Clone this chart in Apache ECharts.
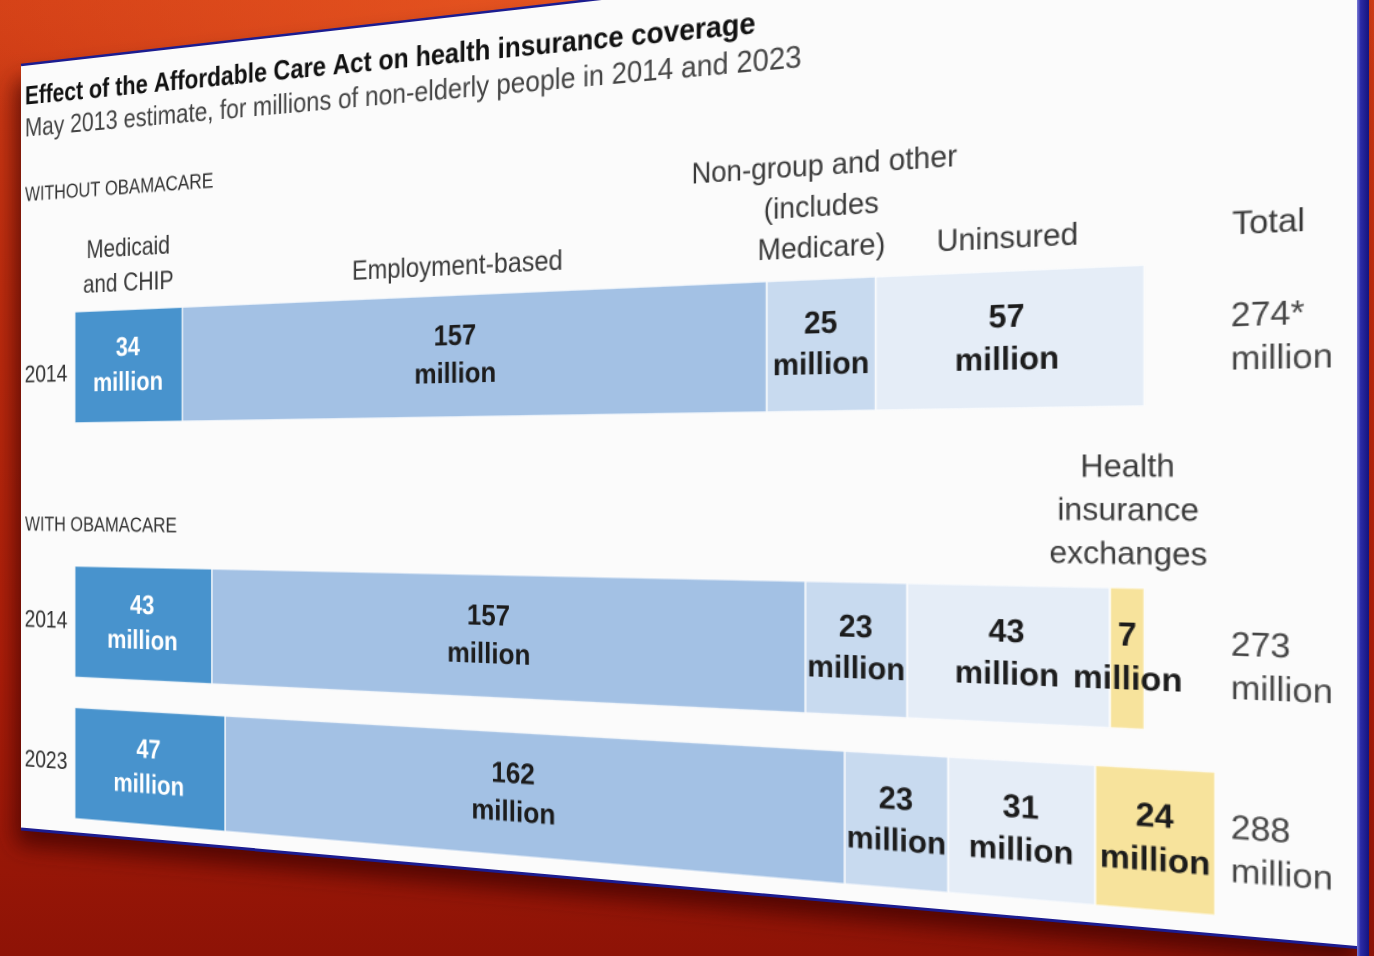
<!DOCTYPE html>
<html>
<head>
<meta charset="utf-8">
<title>Effect of the Affordable Care Act on health insurance coverage</title>
<script src="https://cdn.jsdelivr.net/npm/echarts@6/dist/echarts.min.js"></script>
<style>
  html, body { margin: 0; padding: 0; width: 1374px; height: 956px; overflow: hidden; }
  body {
    background:
      radial-gradient(ellipse 60% 18% at 45% 0%, rgba(236, 90, 35, 0.85) 0%, rgba(236, 90, 35, 0) 100%),
      linear-gradient(180deg, #cf3c15 0%, #bd2c0e 30%, #aa1d09 70%, #8e1306 100%);
  }
  #panel { position: absolute; left: 0; top: 0; }
  #chart { position: absolute; left: 0; top: 0; width: 1260px; height: 764px; transform-origin: 0 0; }
</style>
</head>
<body>
<svg id="panel" width="1374" height="956">
  <defs>
    <filter id="drop" x="-10%" y="-20%" width="125%" height="140%">
      <feGaussianBlur in="SourceAlpha" stdDeviation="11"></feGaussianBlur>
      <feOffset dx="-5" dy="16" result="blur"></feOffset>
      <feFlood flood-color="#3c0500" flood-opacity="0.75"></feFlood>
      <feComposite in2="blur" operator="in"></feComposite>
      <feMerge><feMergeNode></feMergeNode><feMergeNode in="SourceGraphic"></feMergeNode></feMerge>
    </filter>
    <linearGradient id="edge" x1="0" x2="1" y1="0" y2="0">
      <stop offset="0" stop-color="#7c7cd6"></stop>
      <stop offset="0.3" stop-color="#2a2aa6"></stop>
      <stop offset="1" stop-color="#14147e"></stop>
    </linearGradient>
  </defs>
  <polygon points="21,65 1362,-88 1362,948 21,829" fill="#fbfbfb" filter="url(#drop)"></polygon>
  <line x1="21" y1="65" x2="1362" y2="-88" stroke="#1c1c90" stroke-width="2.5"></line>
  <line x1="21" y1="829" x2="1362" y2="948" stroke="#1c1c90" stroke-width="3"></line>
  <rect x="1357" y="0" width="12" height="956" fill="url(#edge)"></rect>
</svg>
<div id="chart"></div>
<script>
// Coverage, in millions of non-elderly people
const rowYears = ['2014', '2014', '2023'];
const sectionNames = ['WITHOUT OBAMACARE', 'WITH OBAMACARE'];
const segmentNames = [
  'Medicaid\nand CHIP',
  'Employment-based',
  'Non-group and other\n(includes\nMedicare)',
  'Uninsured',
  'Health\ninsurance\nexchanges'
];
const totalHeading = 'Total';
const medicaid   = [34, 43, 47];
const employment = [157, 157, 162];
const nonGroup   = [25, 23, 23];
const uninsured  = [57, 43, 31];
const exchanges  = [null, 7, 24];
const totals     = ['274*', '273', '288'];

// Which row each segment heading sits above
const headerRow = [0, 0, 0, 0, 1];
// Rows belonging to each block (without / with the law)
const gridRows = [[0], [1, 2]];

const segments = [medicaid, employment, nonGroup, uninsured, exchanges];
const segColors = ['#4893cd', '#a3c1e4', '#c8daef', '#e5edf7', '#f7e39c'];
const valueColors = ['#ffffff', '#1c1c1c', '#1c1c1c', '#1c1c1c', '#1c1c1c'];

const FONT = '"Liberation Sans", Arial, sans-serif';
const W = 1260, H = 764, BAR_H = 110;

// The flat chart is projected onto the tilted sheet with a homography
function squareToQuad(p) {
  const [x0, y0] = p[0], [x1, y1] = p[1], [x2, y2] = p[2], [x3, y3] = p[3];
  const dx1 = x1 - x2, dx2 = x3 - x2, dx3 = x0 - x1 + x2 - x3;
  const dy1 = y1 - y2, dy2 = y3 - y2, dy3 = y0 - y1 + y2 - y3;
  const det = dx1 * dy2 - dx2 * dy1;
  const g = (dx3 * dy2 - dx2 * dy3) / det;
  const h = (dx1 * dy3 - dx3 * dy1) / det;
  return {
    a: x1 - x0 + g * x1, b: x3 - x0 + h * x3, c: x0,
    d: y1 - y0 + g * y1, e: y3 - y0 + h * y3, f: y0, g, h
  };
}
const m = squareToQuad([[21, 65], [1362, -80], [1362, 948], [21, 829]]);
const dom = document.getElementById('chart');
dom.style.transform = 'matrix3d(' + [
  m.a / W, m.d / W, 0, m.g / W,
  m.b / H, m.e / H, 0, m.h / H,
  0, 0, 1, 0,
  m.c, m.f, 0, 1
].join(',') + ')';

const grids = [
  { left: 67, right: 94, top: 249, height: 110 },
  { left: 67, right: 94, top: 485, height: 280 }
];

const xAxes = grids.map((g, gi) => ({
  type: 'value', gridIndex: gi, min: 0, max: 290, show: false
}));

const yAxes = [];
gridRows.forEach((rows, gi) => {
  yAxes.push({
    type: 'category', gridIndex: gi, inverse: true,
    data: rows.map(r => rowYears[r]),
    axisLine: { show: false }, axisTick: { show: false },
    axisLabel: {
      margin: 9, color: '#333', fontFamily: FONT, fontSize: 24,
      formatter: v => (gi === 0 ? '{low|' : '{y|') + v + '}',
      rich: {
        low: { fontSize: 24, color: '#333', fontFamily: FONT, padding: [14, 0, 0, 0] },
        y: { fontSize: 24, color: '#333', fontFamily: FONT }
      }
    }
  });
  yAxes.push({
    type: 'category', gridIndex: gi, inverse: true, position: 'right',
    data: rows.map(r => totals[r]),
    axisLine: { show: false }, axisTick: { show: false },
    axisLabel: {
      margin: 0, align: 'left', color: '#474747', fontFamily: FONT, fontSize: 26,
      formatter: v => '{s| }\n{t|' + v + '}\n{t|million}',
      rich: {
        s: { fontSize: 4, lineHeight: 9 },
        t: { fontSize: 26, color: '#474747', fontFamily: FONT, lineHeight: 33 }
      }
    }
  });
});

const series = [];
gridRows.forEach((rows, gi) => {
  segments.forEach((vals, k) => {
    series.push({
      type: 'bar', name: segmentNames[k],
      xAxisIndex: gi, yAxisIndex: gi * 2, stack: 'block' + gi,
      barWidth: BAR_H,
      data: rows.map(r => vals[r]),
      itemStyle: { color: segColors[k], borderColor: 'rgba(255,255,255,0.5)', borderWidth: 1 },
      label: {
        show: true, position: 'inside', color: valueColors[k],
        fontSize: 26, fontWeight: 'bold', lineHeight: 34, fontFamily: FONT,
        formatter: p => p.value + '\nmillion'
      },
      silent: true
    });
  });
});

// Segment headings above their bars
gridRows.forEach((rows, gi) => {
  const data = [];
  segments.forEach((vals, k) => {
    const r = headerRow[k];
    if (rows.indexOf(r) < 0) return;
    let start = 0;
    for (let j = 0; j < k; j++) start += segments[j][r] || 0;
    data.push([start + vals[r] / 2, rows.indexOf(r), k]);
  });
  series.push({
    type: 'custom', xAxisIndex: gi, yAxisIndex: gi * 2, clip: false, silent: true,
    encode: { x: 0, y: 1 },
    data: data,
    renderItem: (params, api) => {
      const p = api.coord([api.value(0), api.value(1)]);
      return {
        type: 'text', x: p[0], y: p[1] - BAR_H / 2 - 8,
        style: {
          text: segmentNames[api.value(2)], fill: '#3a3a3a',
          fontSize: 25, fontFamily: FONT, lineHeight: 34,
          align: 'center', verticalAlign: 'bottom'
        }
      };
    }
  });
});

const chart = echarts.init(dom, null, { renderer: 'canvas', devicePixelRatio: 2 });
chart.setOption({
  animation: false,
  backgroundColor: 'transparent',
  title: [
    {
      text: 'Effect of the Affordable Care Act on health insurance coverage',
      subtext: 'May 2013 estimate, for millions of non-elderly people in 2014 and 2023',
      left: 5, top: 18, padding: 0, itemGap: 2,
      textStyle: { fontSize: 26, fontWeight: 'bold', color: '#111', lineHeight: 30, fontFamily: FONT },
      subtextStyle: { fontSize: 26, color: '#444', lineHeight: 30, fontFamily: FONT }
    },
    {
      text: sectionNames[0], left: 5, top: 118, padding: 0,
      textStyle: { fontSize: 20, fontWeight: 'normal', color: '#333', lineHeight: 26, fontFamily: FONT }
    },
    {
      text: sectionNames[1], left: 5, top: 447, padding: 0,
      textStyle: { fontSize: 20, fontWeight: 'normal', color: '#333', lineHeight: 26, fontFamily: FONT }
    },
    {
      text: totalHeading, left: 1167, top: 206, padding: 0,
      textStyle: { fontSize: 25, fontWeight: 'normal', color: '#3a3a3a', lineHeight: 32, fontFamily: FONT }
    }
  ],
  grid: grids,
  xAxis: xAxes,
  yAxis: yAxes,
  series: series
});
</script>
</body>
</html>
